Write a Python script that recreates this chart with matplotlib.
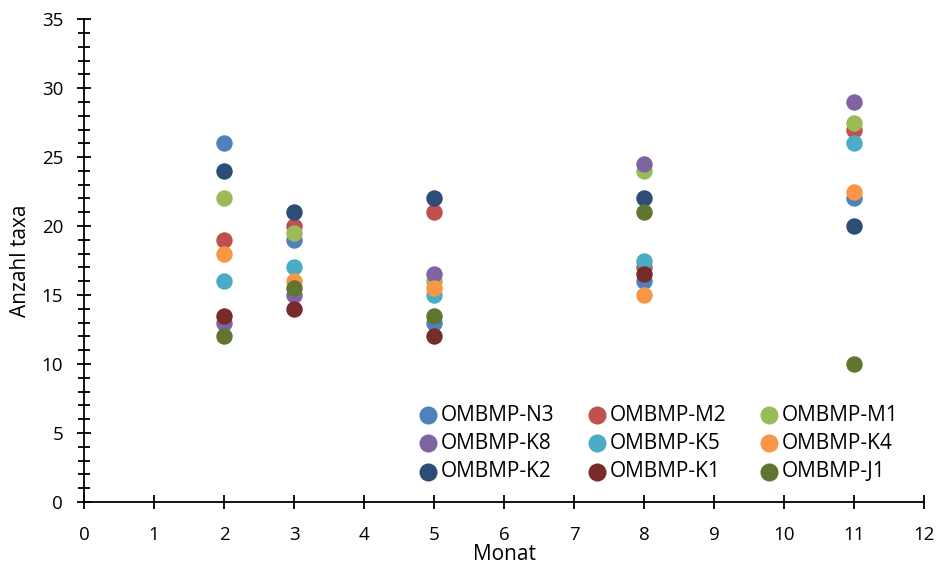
import matplotlib.pyplot as plt
from matplotlib.ticker import MultipleLocator
import numpy as np

plt.rcParams['font.family'] = ['Open Sans', 'DejaVu Sans']

# months sampled
monat = [2, 3, 5, 8, 11]

# number of taxa per site
series = {
    'OMBMP-N3': [26, 19, 13, 16, 22],
    'OMBMP-M2': [19, 20, 21, 17, 27],
    'OMBMP-M1': [22, 19.5, 16, 24, 27.5],
    'OMBMP-K8': [13, 15, 16.5, 24.5, 29],
    'OMBMP-K5': [16, 17, 15, 17.5, 26],
    'OMBMP-K4': [18, 16, 15.5, 15, 22.5],
    'OMBMP-K2': [24, 21, 22, 22, 20],
    'OMBMP-K1': [13.5, 14, 12, 16.5, np.nan],
    'OMBMP-J1': [12, 15.5, 13.5, 21, 10],
}
colors = ['#4F81BD', '#C0504D', '#9BBB59', '#8064A2', '#4BACC6',
          '#F79646', '#2C4D75', '#772C2A', '#5F7530']

fig = plt.figure(figsize=(9.39, 5.64), dpi=100)
ax = fig.add_axes([0.0895, 0.110, 0.8945, 0.856])

handles = []
for (name, vals), c in zip(series.items(), colors):
    h = ax.scatter(monat, vals, s=140, color=c, label=name, zorder=3, linewidths=0)
    handles.append(h)

ax.set_xlim(0, 12)
ax.set_ylim(0, 35)
ax.xaxis.set_major_locator(MultipleLocator(1))
ax.yaxis.set_major_locator(MultipleLocator(5))
ax.yaxis.set_minor_locator(MultipleLocator(1))
ax.tick_params(axis='both', which='major', direction='inout', length=10, width=1.3,
               labelsize=13.5)
ax.tick_params(axis='x', which='major', pad=12)
ax.tick_params(axis='y', which='major', pad=10)
ax.tick_params(axis='y', which='minor', direction='inout', length=8, width=1.3)
for s in ['top', 'right']:
    ax.spines[s].set_visible(False)
for s in ['left', 'bottom']:
    ax.spines[s].set_linewidth(1.3)

ax.set_xlabel('Monat', fontsize=15, labelpad=0)
ax.set_ylabel('Anzahl taxa', fontsize=15, labelpad=8)

# legend filled row by row like the original
order = [0, 3, 6, 1, 4, 7, 2, 5, 8]
ax.legend([handles[i] for i in order], [list(series)[i] for i in order],
          ncol=3, loc='upper left', bbox_to_anchor=(0.38, 0.232), frameon=False,
          fontsize=15, handlelength=1.0, handletextpad=0.1, columnspacing=1.55,
          labelspacing=0.35, markerscale=1.1, borderpad=0.2)

fig.savefig('out.png', dpi=100)
